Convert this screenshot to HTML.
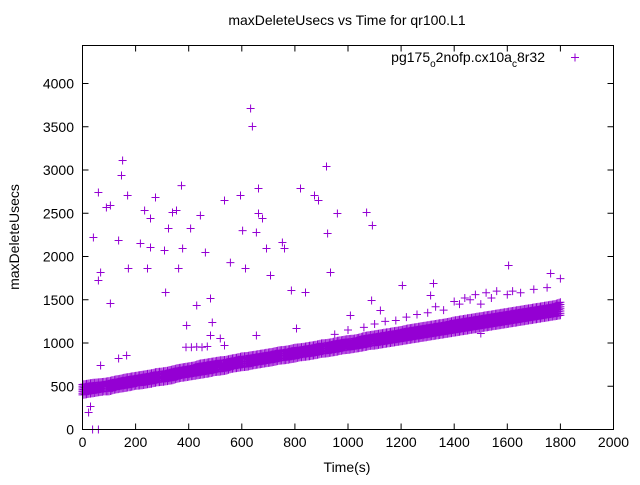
<!DOCTYPE html>
<html><head><meta charset="utf-8"><style>
html,body{margin:0;padding:0;background:#fff;}
svg text{font-family:"Liberation Sans",sans-serif;fill:#000;}
</style></head><body>
<svg id="chart" width="640" height="480" viewBox="0 0 640 480" xmlns="http://www.w3.org/2000/svg">
<rect x="0" y="0" width="640" height="480" fill="#fff"/>
<text x="347" y="25" font-size="14" text-anchor="middle">maxDeleteUsecs vs Time for qr100.L1</text>
<text x="347" y="472" font-size="14" text-anchor="middle">Time(s)</text>
<text transform="translate(19,237) rotate(-90)" font-size="14" text-anchor="middle">maxDeleteUsecs</text>
<g id="axes"></g>
<g id="marks"></g>
<g>
<text x="545" y="62" font-size="14" text-anchor="end">pg175<tspan font-size="10" dy="5">o</tspan><tspan dy="-5">2nofp.cx10a</tspan><tspan font-size="10" dy="5">c</tspan><tspan dy="-5">8r32</tspan></text>
<path d="M571,57.5h8M575,53.5v8" stroke="#9400d3" stroke-width="1"/>
</g>
<rect x="82.5" y="45.5" width="531" height="384" fill="none" stroke="#000" stroke-width="1"/>
</svg>
<script>
const xTicks=[0,200,400,600,800,1000,1200,1400,1600,1800,2000];
const yTicks=[0,500,1000,1500,2000,2500,3000,3500,4000];
const bandTimes=[0,20,40,60,80,100,120,140,160,180,200,220,240,260,280,300,320,340,360,380,400,420,440,460,480,500,520,540,560,580,600,620,640,660,680,700,720,740,760,780,800,820,840,860,880,900,920,940,960,980,1000,1020,1040,1060,1080,1100,1120,1140,1160,1180,1200,1220,1240,1260,1280,1300,1320,1340,1360,1380,1400,1420,1440,1460,1480,1500,1520,1540,1560,1580,1600,1620,1640,1660,1680,1700,1720,1740,1760,1780,1800];
const bandLow=[400,410,420,430,440,440,460,470,480,490,505,510,520,530,545,550,560,570,590,600,610,620,630,640,650,665,670,680,700,710,720,725,740,750,760,770,780,795,800,810,820,835,840,850,860,875,880,890,900,915,920,930,940,950,965,970,980,990,1000,1010,1020,1030,1040,1050,1060,1070,1080,1090,1100,1110,1120,1130,1140,1150,1160,1170,1180,1190,1200,1210,1220,1230,1240,1250,1260,1270,1280,1290,1300,1310,1320];
const bandHigh=[520,530,540,545,550,560,575,585,600,610,620,630,640,650,665,670,680,695,710,720,730,740,760,770,780,790,800,805,820,830,845,850,860,870,880,890,900,915,920,930,945,950,960,970,980,995,1000,1010,1025,1035,1045,1050,1060,1080,1090,1100,1110,1120,1130,1140,1150,1165,1175,1185,1195,1205,1215,1225,1235,1245,1260,1270,1280,1290,1300,1310,1320,1330,1340,1350,1360,1370,1380,1390,1400,1410,1420,1430,1440,1450,1470];
const outlierTimes=[151,147,373,633,640,919,821,663,595,170,60,275,90,105,234,339,354,444,535,663,678,874,889,960,1070,1092,256,324,407,41,136,218,256,309,377,463,603,655,693,753,761,923,68,60,173,245,362,557,614,708,787,840,934,313,105,430,482,489,392,482,519,535,655,136,166,68,23,30,38,60,1205,1311,1322,1500,1605,1763,1800,1089,1122,1009,806,390,410,430,450,470,1220,1260,1300,1330,1360,1400,1420,1440,1460,1480,1500,1520,1540,1560,1600,1620,1650,1700,1750,1180,1140,1100,1060,1000,950];
const outlierValues=[3110,2936,2820,3711,3503,3040,2786,2786,2705,2705,2740,2682,2566,2590,2532,2509,2532,2474,2647,2497,2439,2705,2647,2497,2509,2358,2439,2324,2324,2220,2185,2150,2104,2069,2092,2046,2300,2277,2092,2162,2092,2266,1815,1722,1861,1861,1861,1930,1861,1780,1607,1584,1815,1584,1457,1434,1514,1237,1202,1087,1052,971,1087,821,855,740,197,266,0,0,1665,1549,1688,1110,1896,1803,1745,1491,1376,1318,1168,950,950,955,950,960,1300,1330,1350,1420,1380,1480,1450,1520,1500,1560,1450,1580,1520,1600,1560,1600,1580,1620,1640,1260,1250,1220,1180,1150,1100];
const X0=82.5,X1=613.5,Y0=429.5,Y1=45.5;
function xs(t){return X0+(t-0)/(2000-0)*(X1-X0);}
function ys(v){return Y0-(v/4000)*(Y0-83.5);}
const NS='http://www.w3.org/2000/svg';
const axes=document.getElementById('axes');
xTicks.forEach(t=>{
 const x=xs(t);
 const p=document.createElementNS(NS,'path');
 p.setAttribute('d',`M${x},${Y0}v-6M${x},${Y1}v6`);
 p.setAttribute('stroke','#000');
 
 
 axes.appendChild(p);
 const tx=document.createElementNS(NS,'text');
 tx.setAttribute('x',x);tx.setAttribute('y',447);tx.setAttribute('font-size','14');tx.setAttribute('text-anchor','middle');
 tx.textContent=t;
 
 
 axes.appendChild(tx);
});
yTicks.forEach(v=>{
 const y=ys(v);
 const p=document.createElementNS(NS,'path');
 p.setAttribute('d',`M${X0},${y}h6M${X1},${y}h-6`);
 p.setAttribute('stroke','#000');
 
 
 axes.appendChild(p);
 const tx=document.createElementNS(NS,'text');
 tx.setAttribute('x',74);tx.setAttribute('y',y+5);tx.setAttribute('font-size','14');tx.setAttribute('text-anchor','end');
 tx.textContent=v;
 
 
 axes.appendChild(tx);
});
const marks=document.getElementById('marks');
let d='';
function plus(t,v){const x=xs(t),y=ys(v);d+=`M${(x-4).toFixed(1)},${y.toFixed(1)}h8M${x.toFixed(1)},${(y-4).toFixed(1)}v8`;}
bandTimes.forEach((t,i)=>{
 const lo=bandLow[i],hi=bandHigh[i];
 const nlo=i+1<bandLow.length?bandLow[i+1]:lo, nhi=i+1<bandHigh.length?bandHigh[i+1]:hi;
 const steps=i+1<bandTimes.length?4:1;
 for(let s=0;s<steps;s++){
  const f=s/4, l=lo+(nlo-lo)*f, h=hi+(nhi-hi)*f, tt=t+5*s;
  for(let k=0;k<=6;k++){plus(tt,l+(h-l)*k/6);}
 }
});
outlierTimes.forEach((t,i)=>plus(t,outlierValues[i]));
const path=document.createElementNS(NS,'path');
path.setAttribute('d',d);
path.setAttribute('stroke','#9400d3');
path.setAttribute('stroke-width','1');
path.setAttribute('fill','none');


marks.appendChild(path);
</script>
</body></html>
